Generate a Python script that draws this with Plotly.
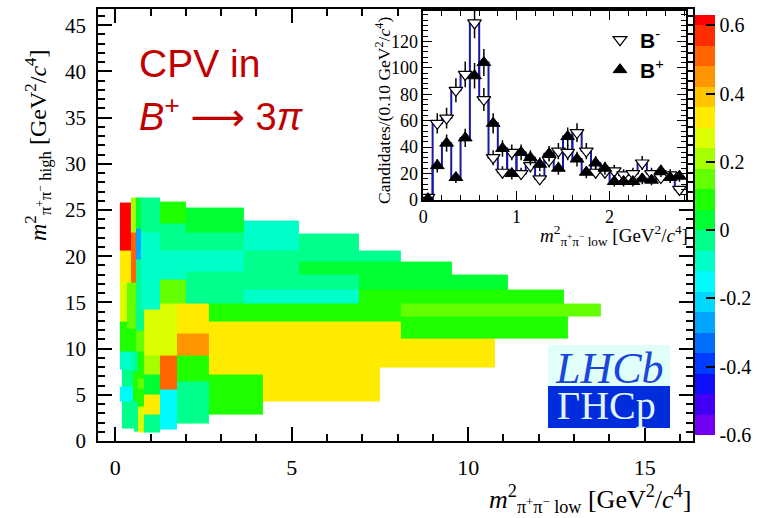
import numpy as np
import plotly.graph_objects as go

# ---------------- main panel: adaptive-binned A_CP map ----------------
# one entry per bin: m2_low range, m2_high range, A_CP
bin_x0 = [0.13, 0.13, 0.45, 0.45, 0.59, 0.59, 0.59, 0.59, 0.73, 0.73,
          1.27, 2.00, 1.27, 2.00, 1.27, 1.27, 2.00, 2.00, 3.63, 3.63,
          5.19, 5.19, 6.89, 3.63, 3.63, 6.89, 6.89,
          0.13, 0.34, 0.13, 0.34, 0.59, 0.80, 1.27, 1.75, 1.75, 2.64,
          8.09, 8.09, 2.64, 4.17, 7.50, 8.09, 1.27, 1.75, 1.75, 2.64,
          1.27, 0.80, 0.80, 0.80, 0.80,
          0.13, 0.51, 0.63, 0.63, 0.63, 0.63, 0.51, 0.54, 0.18, 0.13, 0.18]
bin_x1 = [0.45, 0.45, 0.59, 0.59, 0.73, 0.73, 0.73, 0.80, 1.27, 1.27,
          2.00, 3.63, 2.00, 3.63, 2.00, 2.00, 3.63, 3.63, 5.19, 5.19,
          6.89, 9.53, 8.09, 6.89, 6.89, 11.13, 12.71,
          0.34, 0.59, 0.34, 0.59, 0.80, 1.27, 1.75, 2.64, 2.64, 8.09,
          13.75, 12.83, 4.17, 7.50, 8.09, 10.76, 1.75, 2.64, 2.64, 4.17,
          1.75, 1.27, 1.27, 1.27, 1.27,
          0.51, 0.63, 0.80, 0.80, 0.80, 0.80, 0.63, 0.63, 0.51, 0.51, 0.54]
bin_y0 = [20.6, 17.1, 22.6, 17.1, 23.0, 19.6, 14.2, 12.0, 22.6, 14.2,
          23.56, 22.6, 20.6, 20.6, 17.43, 14.85, 18.33, 14.85, 20.6, 18.0,
          19.4, 18.0, 19.4, 16.4, 14.85, 16.4, 14.85,
          12.95, 12.2, 9.68, 9.68, 9.68, 9.2, 9.2, 11.6, 9.2, 12.95,
          13.46, 11.05, 7.16, 4.3, 7.95, 7.95, 5.54, 6.44, 1.94, 2.84,
          1.22, 7.16, 5.07, 2.84, 0.9,
          7.7, 7.5, 6.8, 5.72, 3.74, 0.9, 4.3, 1.03, 5.9, 4.3, 1.4]
bin_y1 = [25.85, 20.6, 26.35, 22.6, 26.35, 23.0, 19.6, 14.2, 26.35, 22.6,
          25.9, 25.3, 23.56, 22.6, 20.6, 17.43, 20.6, 18.33, 23.9, 20.6,
          22.5, 19.4, 20.6, 18.0, 16.4, 18.0, 16.4,
          17.1, 17.1, 12.95, 12.2, 12.0, 14.2, 14.85, 14.85, 11.6, 14.85,
          14.85, 13.46, 12.95, 12.95, 12.95, 11.05, 9.2, 9.2, 6.44, 7.16,
          5.54, 9.2, 7.16, 5.07, 2.84,
          9.68, 9.68, 9.68, 6.8, 5.72, 3.74, 7.5, 4.3, 7.7, 5.9, 4.3]
bin_acp = [0.61, 0.33, 0.21, 0.51, 0.03, -0.27, -0.03, -0.03, -0.03, -0.09,
           0.09, 0.03, -0.03, -0.03, -0.09, 0.15, -0.09, -0.03, -0.09, -0.03,
           -0.03, 0.03, -0.03, -0.03, -0.09, 0.03, 0.09,
           0.27, 0.15, 0.09, 0.09, 0.15, 0.27, 0.27, 0.33, 0.45, 0.09,
           0.15, 0.09, 0.33, 0.33, 0.33, 0.33, 0.51, 0.09, -0.03, 0.09,
           -0.15, 0.21, 0.03, 0.33, -0.03,
           -0.09, -0.03, 0.09, 0.15, 0.09, 0.27, 0.09, -0.03, -0.03, -0.15, -0.03]

# colour palette bands (ROOT-like rainbow)
band_edges = [-0.60, -0.54, -0.48, -0.42, -0.36, -0.30, -0.24, -0.18, -0.12, -0.06,
              0.00, 0.06, 0.12, 0.18, 0.24, 0.30, 0.36, 0.42, 0.48, 0.54, 0.60, 0.63]
band_colors = ["rgb(115,0,240)", "rgb(65,0,245)", "rgb(15,15,250)", "rgb(0,60,255)",
               "rgb(0,110,255)", "rgb(0,165,255)", "rgb(0,215,255)", "rgb(0,250,250)",
               "rgb(0,255,200)", "rgb(0,255,140)", "rgb(0,255,50)", "rgb(30,255,0)",
               "rgb(100,255,0)", "rgb(165,255,0)", "rgb(220,255,0)", "rgb(255,235,0)",
               "rgb(255,195,0)", "rgb(255,150,0)", "rgb(255,100,0)", "rgb(255,45,0)",
               "rgb(255,0,0)"]
cbar_ticks = [-0.6, -0.4, -0.2, 0, 0.2, 0.4, 0.6]
cbar_labels = ["-0.6", "-0.4", "-0.2", "0", "0.2", "0.4", "0.6"]

# ---------------- inset: m2_low projection ----------------
inset_m2 = [0.05, 0.15, 0.25, 0.35, 0.45, 0.55, 0.65, 0.75, 0.85, 0.95,
            1.05, 1.15, 1.25, 1.35, 1.45, 1.55, 1.65, 1.75, 1.85, 1.95,
            2.05, 2.15, 2.25, 2.35, 2.45, 2.55, 2.65, 2.75]
bminus = [2, 58, 62, 83, 95, 134, 76, 32, 21, 36,
          20, 26, 16, 30, 37, 36, 51, 37, 21, 21,
          22, 19, 20, 28, 20, 17, 19, 8]
bplus = [1, 26, 43, 17, 47, 94, 104, 58, 39, 20,
         36, 32, 27, 35, 24, 48, 31, 21, 28, 24,
         14, 14, 14, 16, 15, 22, 17, 18]
bin_width = 0.1

# ---------------- build grid for the heatmap ----------------
zmin, zmax = band_edges[0], band_edges[-1]
xe = sorted(set(bin_x0) | set(bin_x1))
ye = sorted(set(bin_y0) | set(bin_y1))
z = [[None] * (len(xe) - 1) for _ in range(len(ye) - 1)]
for x0, x1, y0, y1, v in zip(bin_x0, bin_x1, bin_y0, bin_y1, bin_acp):
    for i in range(len(xe) - 1):
        xc = 0.5 * (xe[i] + xe[i + 1])
        if not (x0 < xc < x1):
            continue
        for j in range(len(ye) - 1):
            yc = 0.5 * (ye[j] + ye[j + 1])
            if y0 < yc < y1:
                z[j][i] = v

cscale = []
for k, c in enumerate(band_colors):
    a = (band_edges[k] - zmin) / (zmax - zmin)
    b = (band_edges[k + 1] - zmin) / (zmax - zmin)
    a = 0.0 if k == 0 else round(a, 6)
    b = 1.0 if k == len(band_colors) - 1 else round(b, 6)
    cscale.append([a, c])
    cscale.append([b, c])

# layout geometry (pixels)
W, H = 759, 518
ML, MR, MT, MB = 98, 66, 9, 77
PW, PH = W - ML - MR, H - MT - MB


def px(xp):
    return (xp - ML) / PW


def py(yp):
    return (H - MB - yp) / PH


serif = "Liberation Serif"
sans = "Liberation Sans"

fig = go.Figure()
fig.add_trace(go.Heatmap(
    x=xe, y=ye, z=z, zmin=zmin, zmax=zmax, colorscale=cscale, zsmooth=False,
    hoverinfo="skip", xaxis="x", yaxis="y",
    colorbar=dict(x=px(695), xanchor="left", y=py(15), yanchor="top",
                  len=420, lenmode="pixels", thickness=20, thicknessmode="pixels",
                  xpad=0, ypad=0, tickvals=cbar_ticks, ticktext=cbar_labels,
                  ticks="inside", ticklen=9, tickcolor="black", tickwidth=1.5,
                  outlinewidth=0,
                  tickfont=dict(family=serif, size=20, color="black")),
))

# inset histogram steps
edges_step = [m - bin_width / 2 for m in inset_m2] + [inset_m2[-1] + bin_width / 2]
for vals in (bminus, bplus):
    fig.add_trace(go.Scatter(
        x=edges_step, y=list(vals) + [vals[-1]], mode="lines", line_shape="hv",
        line=dict(color="rgb(25,25,165)", width=2), xaxis="x2", yaxis="y2",
        showlegend=False, hoverinfo="skip"))

fig.add_trace(go.Scatter(
    x=inset_m2, y=bminus, mode="markers", xaxis="x2", yaxis="y2",
    name="<b>B</b><sup>-</sup>", legend="legend",
    marker=dict(symbol="triangle-down", size=12, color="white",
                line=dict(color="black", width=1.2)),
    error_y=dict(type="data", array=list(np.sqrt(bminus)), color="black",
                 thickness=1.5, width=0)))
fig.add_trace(go.Scatter(
    x=inset_m2, y=bplus, mode="markers", xaxis="x2", yaxis="y2",
    name="<b>B</b><sup>+</sup>", legend="legend2",
    marker=dict(symbol="triangle-up", size=12, color="black",
                line=dict(color="black", width=1)),
    error_y=dict(type="data", array=list(np.sqrt(bplus)), color="black",
                 thickness=1.5, width=0)))

axis_common = dict(showline=True, linecolor="black", linewidth=1.5, mirror="ticks",
                   ticks="inside", tickcolor="black", showgrid=False, zeroline=False,
                   automargin=False)

fig.update_layout(
    width=W, height=H, margin=dict(l=ML, r=MR, t=MT, b=MB, autoexpand=False),
    paper_bgcolor="white", plot_bgcolor="white",
    xaxis=dict(domain=[0, 1], range=[-0.49, 16.37], tickvals=[0, 5, 10, 15],
               ticklen=14, tickwidth=1.5, ticklabelstandoff=6,
               minor=dict(dtick=1, ticks="inside", ticklen=7, tickcolor="black"),
               tickfont=dict(family=serif, size=22, color="black"), anchor="y",
               **axis_common),
    yaxis=dict(domain=[0, 1], range=[0, 46.75], tickvals=list(range(0, 50, 5)),
               ticklen=14, tickwidth=1.5, ticklabelstandoff=6,
               minor=dict(dtick=1, ticks="inside", ticklen=7, tickcolor="black"),
               tickfont=dict(family=serif, size=21, color="black"), anchor="x",
               **axis_common),
    xaxis2=dict(domain=[px(423.3), px(686)], range=[0, 2.82], tickvals=[0, 1, 2],
                ticklen=9, tickwidth=1.2,
                minor=dict(dtick=0.2, ticks="inside", ticklen=5, tickcolor="black"),
                tickfont=dict(family=serif, size=18, color="black"), anchor="y2",
                **axis_common),
    yaxis2=dict(domain=[py(200), py(11)], range=[0, 143],
                tickvals=list(range(0, 140, 20)), ticklen=9, tickwidth=1.2,
                minor=dict(dtick=4, ticks="inside", ticklen=5, tickcolor="black"),
                tickfont=dict(family=serif, size=18, color="black"), anchor="x2",
                **axis_common),
    legend=dict(x=px(600), y=py(40), xanchor="left", yanchor="middle",
                bgcolor="rgba(0,0,0,0)", font=dict(family=sans, size=21, color="black")),
    legend2=dict(x=px(600), y=py(70), xanchor="left", yanchor="middle",
                 bgcolor="rgba(0,0,0,0)", font=dict(family=sans, size=21, color="black")),
)

ann = []
# axis titles
ann.append(dict(text="<i>m</i><sup>2</sup><sub>π<sup>+</sup>π<sup>−</sup> low</sub> [GeV<sup>2</sup>/<i>c</i><sup>4</sup>]",
                x=px(693), y=py(499), xanchor="right", yanchor="middle",
                font=dict(family=serif, size=26, color="black")))
ann.append(dict(text="<i>m</i><sup>2</sup><sub>π<sup>+</sup>π<sup>−</sup> high</sub> [GeV<sup>2</sup>/<i>c</i><sup>4</sup>]",
                x=px(38), y=py(146), xanchor="center", yanchor="middle", textangle=-90,
                font=dict(family=serif, size=24, color="black")))
# inset titles
ann.append(dict(text="<i>m</i><sup>2</sup><sub>π<sup>+</sup>π<sup>−</sup> low</sub> [GeV<sup>2</sup>/<i>c</i><sup>4</sup>]",
                x=px(690), y=py(235), xanchor="right", yanchor="middle",
                font=dict(family=serif, size=19, color="black")))
ann.append(dict(text="Candidates/(0.10 GeV<sup>2</sup>/<i>c</i><sup>4</sup>)",
                x=px(383), y=py(111), xanchor="center", yanchor="middle", textangle=-90,
                font=dict(family=serif, size=17.5, color="black")))
# CPV label
ann.append(dict(text="CPV in", x=px(137), y=py(63), xanchor="left", yanchor="middle",
                font=dict(family=sans, size=39, color="rgb(192,0,0)")))
ann.append(dict(text="<i>B</i><sup>+</sup> <span style=\"font-family:'DejaVu Sans'\">⟶</span> 3<i>π</i>",
                x=px(137), y=py(114), xanchor="left", yanchor="middle",
                font=dict(family=sans, size=38, color="rgb(192,0,0)")))
# LHCb logo text
ann.append(dict(text="<i>LHCb</i>", x=px(609), y=py(368), xanchor="center", yanchor="middle",
                font=dict(family=serif, size=44, color="rgb(25,70,220)")))
ann.append(dict(text="ΓHCp", x=px(606), y=py(405), xanchor="center", yanchor="middle",
                font=dict(family=serif, size=40, color="rgb(225,245,255)")))
for a in ann:
    a.update(xref="paper", yref="paper", showarrow=False)
fig.update_layout(annotations=ann)

fig.update_layout(shapes=[
    dict(type="rect", xref="paper", yref="paper", x0=px(548), x1=px(670),
         y0=py(386), y1=py(345), fillcolor="rgb(225,255,250)", line=dict(width=0), layer="above"),
    dict(type="rect", xref="paper", yref="paper", x0=px(548), x1=px(670),
         y0=py(428), y1=py(386), fillcolor="rgb(0,45,220)", line=dict(width=0), layer="above"),
])

fig.write_html("out.html", config={"displayModeBar": False},
               post_script="document.body.style.margin='0';document.body.style.padding='0';")
